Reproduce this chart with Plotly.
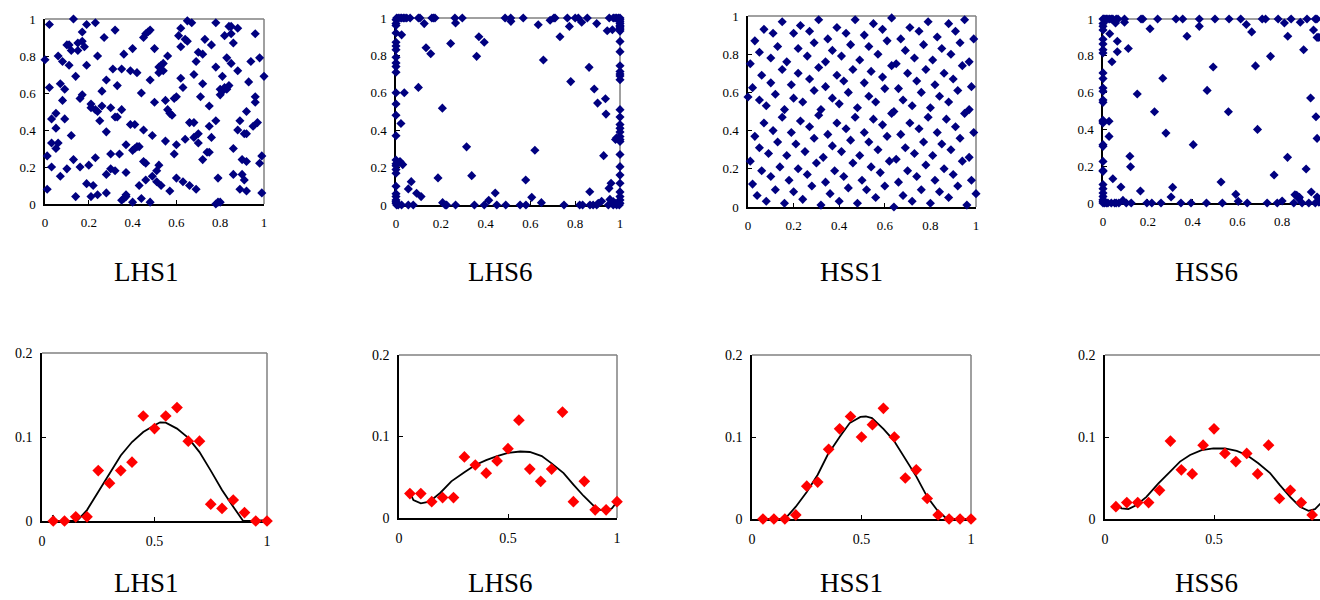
import plotly.graph_objects as go

# ---------------- data ----------------
panel_names = ["LHS1", "LHS6", "HSS1", "HSS6"]

top_ticks = [0, 0.2, 0.4, 0.6, 0.8, 1]
top_ticktext = ["0", "0.2", "0.4", "0.6", "0.8", "1"]
bot_xticks = [0, 0.5, 1]
bot_xticktext = ["0", "0.5", "1"]
bot_yticks = [0, 0.1, 0.2]
bot_yticktext = ["0", "0.1", "0.2"]

lhs1_pts = [
    (0.13,1.00),(0.02,0.97),(0.17,0.93),(0.19,0.97),(0.23,0.98),(0.32,0.94),(0.27,0.90),(0.45,0.90),
    (0.46,0.92),(0.47,0.93),(0.48,0.94),(0.50,0.84),(0.65,0.99),(0.67,0.98),(0.62,0.95),(0.61,0.91),
    (0.64,0.89),(0.65,0.88),(0.62,0.85),(0.78,0.98),(0.84,0.96),(0.85,0.96),(0.88,0.95),(0.85,0.92),
    (0.82,0.91),(0.73,0.89),(0.76,0.86),(0.86,0.87),(0.96,0.92),(0.15,0.87),(0.17,0.88),(0.10,0.86),
    (0.11,0.86),(0.12,0.83),(0.15,0.83),(0.18,0.85),(0.24,0.80),(0.36,0.81),(0.40,0.84),(0.56,0.80),
    (0.70,0.82),(0.72,0.81),(0.83,0.79),(0.85,0.76),(0.06,0.80),(0.00,0.78),(0.08,0.77),(0.11,0.75),
    (0.19,0.75),(0.69,0.77),(0.78,0.74),(0.94,0.77),(0.98,0.79),(0.31,0.73),(0.35,0.73),(0.39,0.72),
    (0.42,0.71),(0.52,0.74),(0.54,0.72),(0.52,0.71),(0.54,0.76),(0.53,0.75),(0.68,0.70),(0.88,0.72),
    (0.14,0.69),(0.28,0.67),(0.48,0.67),(0.62,0.68),(0.72,0.65),(0.81,0.69),(0.93,0.66),(1.00,0.69),
    (0.07,0.65),(0.02,0.63),(0.09,0.62),(0.33,0.64),(0.26,0.61),(0.44,0.60),(0.63,0.63),(0.80,0.62),
    (0.81,0.61),(0.82,0.63),(0.83,0.62),(0.84,0.64),(0.80,0.59),(0.08,0.56),(0.17,0.59),(0.16,0.57),
    (0.21,0.54),(0.21,0.52),(0.23,0.51),(0.24,0.50),(0.26,0.53),(0.30,0.52),(0.35,0.51),(0.32,0.47),
    (0.33,0.47),(0.50,0.55),(0.55,0.56),(0.59,0.57),(0.60,0.58),(0.56,0.51),(0.57,0.49),(0.58,0.48),
    (0.71,0.58),(0.75,0.53),(0.96,0.58),(0.96,0.55),(0.92,0.50),(0.05,0.49),(0.03,0.46),(0.09,0.46),
    (0.05,0.41),(0.25,0.45),(0.39,0.43),(0.41,0.43),(0.45,0.40),(0.49,0.37),(0.28,0.39),(0.66,0.44),
    (0.68,0.44),(0.70,0.38),(0.75,0.42),(0.78,0.45),(0.88,0.40),(0.89,0.45),(0.91,0.38),(0.92,0.38),
    (0.97,0.44),(0.95,0.42),(0.12,0.37),(0.03,0.33),(0.06,0.33),(0.05,0.30),(0.37,0.32),(0.40,0.29),
    (0.41,0.30),(0.42,0.31),(0.43,0.31),(0.55,0.34),(0.60,0.32),(0.64,0.35),(0.68,0.36),(0.70,0.33),
    (0.76,0.36),(0.74,0.28),(0.75,0.28),(0.72,0.24),(0.59,0.27),(0.86,0.30),(0.30,0.27),(0.34,0.27),
    (0.01,0.26),(0.99,0.26),(0.13,0.24),(0.23,0.25),(0.03,0.20),(0.10,0.19),(0.16,0.20),(0.20,0.21),
    (0.45,0.23),(0.46,0.22),(0.52,0.21),(0.51,0.18),(0.49,0.15),(0.30,0.19),(0.32,0.18),(0.37,0.17),
    (0.28,0.16),(0.07,0.15),(0.90,0.24),(0.92,0.23),(0.98,0.22),(0.86,0.16),(0.90,0.16),(0.91,0.13),
    (0.79,0.14),(0.60,0.14),(0.63,0.12),(0.66,0.10),(0.51,0.12),(0.53,0.10),(0.43,0.10),(0.46,0.13),
    (0.19,0.11),(0.22,0.10),(0.01,0.08),(0.57,0.07),(0.69,0.08),(0.89,0.08),(0.92,0.07),(0.28,0.06),
    (0.21,0.04),(0.24,0.05),(0.14,0.04),(0.35,0.02),(0.36,0.03),(0.37,0.04),(0.37,0.05),(0.40,0.01),
    (0.44,0.03),(0.48,0.01),(0.78,0.00),(0.79,0.01),(0.80,0.01),(0.99,0.06),
]

lhs6_top_edge_x = [0.003,0.01,0.018,0.025,0.033,0.04,0.048,0.063,0.10,0.107,0.16,0.167,0.174,0.263,0.296,
                   0.487,0.512,0.568,0.705,0.71,0.765,0.80,0.814,0.854,0.952,0.97,0.978,0.985,0.993,1.0]
lhs6_left_edge_y = [0.99,0.97,0.96,0.92,0.87,0.85,0.83,0.79,0.76,0.74,0.71,0.60,0.54,0.48,0.37,0.24,
                    0.22,0.21,0.19,0.17,0.10,0.06,0.045,0.027,0.018,0.01]
lhs6_bottom_edge_x = [0.003,0.01,0.025,0.055,0.077,0.22,0.226,0.266,0.35,0.394,0.45,0.49,0.554,0.58,
                      0.75,0.82,0.833,0.866,0.88,0.896,0.948,0.97,0.985,0.997]
lhs6_right_edge_y = [0.99,0.98,0.97,0.96,0.955,0.946,0.94,0.93,0.875,0.82,0.745,0.714,0.70,0.69,0.67,
                     0.51,0.47,0.43,0.41,0.39,0.366,0.35,0.34,0.27,0.205,0.16,0.116,0.07,0.045,0.027,0.01]
lhs6_inner = [
    (0.126,0.97),(0.266,0.973),(0.513,0.982),(0.635,0.964),(0.688,0.988),(0.774,0.955),(0.829,0.977),
    (0.896,0.97),(0.943,0.932),(0.966,0.9375),(0.732,0.90),(0.025,0.91),(0.37,0.90),(0.394,0.87),
    (0.244,0.864),(0.134,0.841),(0.155,0.809),(0.36,0.795),(0.658,0.775),(0.862,0.736),(0.78,0.66),
    (0.885,0.62),(0.935,0.568),(0.90,0.545),(0.9375,0.486),(0.10,0.629),(0.037,0.60),(0.207,0.518),
    (0.022,0.436),(0.315,0.311),(0.62,0.293),(0.927,0.264),(0.03,0.216),(0.018,0.232),(0.338,0.157),
    (0.1875,0.145),(0.579,0.134),(0.068,0.125),(0.055,0.086),(0.092,0.0625),(0.112,0.045),(0.443,0.064),
    (0.414,0.025),(0.606,0.041),(0.649,0.0125),(0.865,0.071),(0.96,0.116),(0.951,0.089),(0.955,0.03),
    (0.918,0.02),(0.903,0.009),(0.97,0.018),(0.978,0.009),(0.208,0.0125),(0.98,0.35),(0.985,0.36),
]

hss1_pts = [
    (0.00,0.576),(0.01,0.75),(0.02,0.625),(0.03,0.87),(0.05,0.81),(0.07,0.93),(0.05,0.56),(0.06,0.69),
    (0.03,0.37),(0.07,0.44),(0.08,0.53),(0.10,0.78),(0.11,0.91),(0.13,0.84),(0.10,0.65),(0.12,0.59),
    (0.11,0.40),(0.05,0.31),(0.09,0.28),(0.01,0.24),(0.06,0.19),(0.02,0.12),(0.04,0.06),(0.08,0.03),
    (0.10,0.16),(0.12,0.09),(0.16,0.02),(0.14,0.21),(0.13,0.34),(0.15,0.72),(0.16,0.51),(0.15,0.47),
    (0.15,0.97),(0.17,0.76),(0.17,0.27),(0.18,0.14),(0.19,0.39),(0.19,0.64),(0.20,0.91),(0.20,0.08),
    (0.20,0.57),(0.22,0.83),(0.21,0.33),(0.22,0.20),(0.22,0.70),(0.23,0.45),(0.23,0.95),(0.24,0.04),
    (0.24,0.55),(0.25,0.29),(0.26,0.79),(0.26,0.17),(0.27,0.67),(0.27,0.42),(0.27,0.92),(0.28,0.11),
    (0.29,0.61),(0.29,0.36),(0.29,0.86),(0.30,0.23),(0.31,0.73),(0.31,0.48),(0.31,0.98),(0.32,0.01),
    (0.32,0.51),(0.33,0.26),(0.34,0.76),(0.34,0.13),(0.34,0.63),(0.35,0.38),(0.35,0.88),(0.36,0.07),
    (0.37,0.57),(0.37,0.32),(0.37,0.82),(0.38,0.19),(0.39,0.69),(0.39,0.44),(0.39,0.94),(0.40,0.03),
    (0.40,0.54),(0.41,0.29),(0.41,0.79),(0.42,0.16),(0.42,0.66),(0.43,0.41),(0.43,0.91),(0.44,0.10),
    (0.44,0.60),(0.45,0.35),(0.45,0.85),(0.46,0.23),(0.46,0.72),(0.47,0.47),(0.47,0.98),(0.48,0.02),
    (0.48,0.52),(0.49,0.27),(0.49,0.77),(0.50,0.14),(0.51,0.65),(0.51,0.39),(0.51,0.90),(0.52,0.09),
    (0.53,0.58),(0.53,0.34),(0.53,0.84),(0.54,0.21),(0.54,0.71),(0.55,0.46),(0.55,0.96),(0.56,0.05),
    (0.56,0.55),(0.57,0.30),(0.57,0.80),(0.58,0.18),(0.59,0.68),(0.59,0.43),(0.59,0.93),(0.60,0.11),
    (0.60,0.62),(0.61,0.37),(0.61,0.87),(0.62,0.24),(0.63,0.74),(0.63,0.49),(0.63,0.99),(0.64,0.00),
    (0.64,0.50),(0.65,0.25),(0.65,0.75),(0.66,0.13),(0.66,0.62),(0.67,0.38),(0.67,0.88),(0.68,0.06),
    (0.68,0.56),(0.69,0.31),(0.69,0.82),(0.70,0.19),(0.70,0.70),(0.71,0.44),(0.71,0.94),(0.72,0.03),
    (0.72,0.53),(0.73,0.28),(0.73,0.78),(0.74,0.16),(0.74,0.66),(0.75,0.41),(0.75,0.92),(0.76,0.09),
    (0.76,0.60),(0.77,0.34),(0.77,0.85),(0.78,0.22),(0.78,0.72),(0.79,0.47),(0.79,0.97),(0.80,0.02),
    (0.80,0.52),(0.81,0.27),(0.81,0.77),(0.82,0.14),(0.82,0.64),(0.83,0.39),(0.83,0.89),(0.84,0.08),
    (0.84,0.58),(0.85,0.33),(0.85,0.83),(0.86,0.20),(0.86,0.70),(0.87,0.46),(0.88,0.96),(0.88,0.05),
    (0.88,0.55),(0.89,0.30),(0.89,0.80),(0.90,0.17),(0.90,0.67),(0.91,0.42),(0.91,0.92),(0.92,0.11),
    (0.92,0.61),(0.93,0.36),(0.93,0.86),(0.94,0.24),(0.94,0.74),(0.95,0.49),(0.95,0.98),(0.96,0.01),
    (0.97,0.51),(0.97,0.26),(0.97,0.76),(0.98,0.14),(0.98,0.63),(0.99,0.39),(0.99,0.88),(1.00,0.07),
]

hss6_top_edge_x = [0.0,0.004,0.009,0.015,0.022,0.03,0.037,0.044,0.059,0.067,0.096,0.17,0.178,0.244,0.326,
                   0.356,0.43,0.5,0.563,0.615,0.711,0.726,0.782,0.84,0.911,0.948,0.955]
hss6_left_edge_y = [0.975,0.96,0.94,0.89,0.864,0.833,0.815,0.707,0.676,0.625,0.607,0.56,0.547,0.45,0.444,
                    0.435,0.317,0.308,0.226,0.176,0.172,0.10,0.078,0.054,0.036,0.018,0.009]
hss6_bottom_edge_x = [0.0,0.007,0.015,0.022,0.037,0.052,0.059,0.071,0.104,0.126,0.196,0.218,0.259,0.348,
                      0.393,0.462,0.533,0.644,0.733,0.778,0.852,0.889,0.919,0.948]
hss6_inner = [
    (0.056,0.978),(0.096,0.982),(0.03,0.92),(0.43,0.96),(0.64,0.97),(0.664,0.93),(0.81,0.978),(0.881,0.982),
    (0.94,0.94),(0.956,0.90),(0.21,0.947),(0.375,0.906),(0.825,0.906),(0.064,0.879),(0.113,0.84),
    (0.064,0.822),(0.04,0.768),(0.896,0.833),(0.748,0.797),(0.681,0.745),(0.492,0.739),(0.267,0.678),
    (0.465,0.612),(0.153,0.592),(0.927,0.571),(0.23,0.496),(0.56,0.496),(0.951,0.469),(0.69,0.40),
    (0.281,0.38),(0.956,0.351),(0.403,0.317),(0.12,0.254),(0.824,0.248),(0.123,0.197),(0.907,0.185),
    (0.764,0.152),(0.044,0.132),(0.527,0.114),(0.08,0.087),(0.311,0.085),(0.167,0.065),(0.93,0.06),
    (0.304,0.033),(0.593,0.047),(0.865,0.042),(0.874,0.024),(0.877,0.031),(0.604,0.009),(0.80,0.011),
    (0.089,0.014),(0.956,0.033),(0.027,0.444),(0.027,0.362),(0.964,0.90),(0.964,0.005),(0.857,0.045),
]

# bottom row: frequency (red diamonds) and fitted curve (black line)
bin_x = [0.05,0.10,0.15,0.20,0.25,0.30,0.35,0.40,0.45,0.50,0.55,0.60,0.65,0.70,0.75,0.80,0.85,0.90,0.95,1.00]
lhs1_freq = [0,0,0.005,0.005,0.06,0.045,0.06,0.07,0.125,0.11,0.125,0.135,0.095,0.095,0.02,0.015,0.025,0.01,0,0]
lhs6_freq = [0.03,0.03,0.02,0.025,0.025,0.075,0.065,0.055,0.07,0.085,0.12,0.06,0.045,0.06,0.13,0.02,0.045,0.01,0.01,0.02]
hss1_freq = [0,0,0,0.005,0.04,0.045,0.085,0.11,0.125,0.10,0.115,0.135,0.10,0.05,0.06,0.025,0.005,0,0,0]
hss6_freq = [0.015,0.02,0.02,0.02,0.035,0.095,0.06,0.055,0.09,0.11,0.08,0.07,0.08,0.055,0.09,0.025,0.035,0.02,0.005,0.02]

lhs1_fit_x = [0.047,0.06,0.07,0.10,0.155,0.20,0.25,0.30,0.35,0.40,0.45,0.50,0.525,0.55,0.60,0.65,0.70,0.75,0.80,0.85,0.894,0.945,0.99,1.0]
lhs1_fit_y = [0.007,0.001,0,0,0,0.013,0.035,0.057,0.078,0.094,0.106,0.114,0.1175,0.117,0.110,0.099,0.082,0.060,0.037,0.017,0.0,0.0,0.001,0.005]
lhs6_fit_x = [0.046,0.066,0.10,0.14,0.19,0.24,0.30,0.35,0.40,0.45,0.50,0.556,0.60,0.655,0.70,0.755,0.80,0.847,0.893,0.923,0.954,0.977,1.0]
lhs6_fit_y = [0.034,0.022,0.018,0.020,0.031,0.045,0.056,0.065,0.071,0.076,0.080,0.0816,0.081,0.076,0.067,0.055,0.041,0.027,0.015,0.010,0.009,0.012,0.020]
hss1_fit_x = [0.05,0.10,0.15,0.20,0.25,0.30,0.345,0.40,0.446,0.495,0.52,0.548,0.60,0.647,0.70,0.75,0.80,0.845,0.89,0.95,1.0]
hss1_fit_y = [0,0,0,0.015,0.033,0.054,0.078,0.100,0.117,0.1245,0.125,0.123,0.110,0.096,0.074,0.052,0.027,0.011,0,0,0]
hss6_fit_x = [0.046,0.076,0.107,0.145,0.19,0.245,0.30,0.344,0.39,0.443,0.497,0.55,0.604,0.65,0.703,0.757,0.803,0.849,0.894,0.933,0.963,0.986,1.0]
hss6_fit_y = [0.019,0.013,0.012,0.017,0.027,0.0435,0.058,0.070,0.078,0.084,0.086,0.086,0.083,0.078,0.068,0.056,0.041,0.027,0.015,0.010,0.012,0.019,0.022]

# ---------------- assemble point sets ----------------
def split(pts):
    return [p[0] for p in pts], [p[1] for p in pts]

lhs1_x, lhs1_y = split(lhs1_pts)
hss1_x, hss1_y = split(hss1_pts)
lhs6_x = (lhs6_top_edge_x + [0.0] * len(lhs6_left_edge_y) + lhs6_bottom_edge_x
          + [1.0] * len(lhs6_right_edge_y) + [p[0] for p in lhs6_inner])
lhs6_y = ([1.0] * len(lhs6_top_edge_x) + lhs6_left_edge_y + [0.0] * len(lhs6_bottom_edge_x)
          + lhs6_right_edge_y + [p[1] for p in lhs6_inner])
hss6_x = (hss6_top_edge_x + [0.0] * len(hss6_left_edge_y) + hss6_bottom_edge_x + [p[0] for p in hss6_inner])
hss6_y = ([1.0] * len(hss6_top_edge_x) + hss6_left_edge_y + [0.0] * len(hss6_bottom_edge_x) + [p[1] for p in hss6_inner])

top_sets = [(lhs1_x, lhs1_y), (lhs6_x, lhs6_y), (hss1_x, hss1_y), (hss6_x, hss6_y)]
bot_sets = [(lhs1_freq, lhs1_fit_x, lhs1_fit_y), (lhs6_freq, lhs6_fit_x, lhs6_fit_y),
            (hss1_freq, hss1_fit_x, hss1_fit_y), (hss6_freq, hss6_fit_x, hss6_fit_y)]

# ---------------- layout geometry (pixels) ----------------
W, H = 1320, 600
top_px = [(45, 264, 19, 204, 1.0), (396, 620, 18, 205, 1.0), (748, 976, 16, 207, 1.0), (1103, 1320, 19, 203, 0.969)]
bot_px = [(42, 267, 353, 521, 1.0), (399, 617, 355, 518, 1.0), (752, 971, 355, 519, 1.0), (1105, 1320, 355, 519, 0.986)]
title_cx = [146, 500, 851, 1206]

fig = go.Figure()
layout = {}
shapes = []
annotations = []
SERIF = "Liberation Serif"
BORDER = "#808080"

def ref(letter, idx):
    return letter if idx == 1 else f"{letter}{idx}"

def add_axes(idx, geom, yr, xt, xtt, yt, ytt, fs, last):
    x0, x1, y0, y1, xmax = geom
    xa = "xaxis" if idx == 1 else f"xaxis{idx}"
    ya = "yaxis" if idx == 1 else f"yaxis{idx}"
    common = dict(showline=True, linecolor="black", linewidth=1.5, ticks="inside", ticklen=4,
                  tickcolor="black", tickwidth=1, showgrid=False, zeroline=False, layer="below traces",
                  tickfont=dict(family=SERIF, size=fs, color="black"), fixedrange=True)
    layout[xa] = dict(domain=[x0 / W, x1 / W], range=[0, xmax], anchor=ref("y", idx),
                      tickvals=xt, ticktext=xtt, ticklabelstandoff=6, **common)
    layout[ya] = dict(domain=[1 - y1 / H, 1 - y0 / H], range=[0, yr], anchor=ref("x", idx),
                      tickvals=yt, ticktext=ytt, ticklabelstandoff=5, **common)
    xd = ref("x", idx) + " domain"
    yd = ref("y", idx) + " domain"
    shapes.append(dict(type="line", xref=xd, yref=yd, x0=0, x1=1, y0=1, y1=1,
                       line=dict(color=BORDER, width=1.5), layer="below"))
    if not last:
        shapes.append(dict(type="line", xref=xd, yref=yd, x0=1, x1=1, y0=0, y1=1,
                           line=dict(color=BORDER, width=1.5), layer="below"))

for i in range(4):
    idx = i + 1
    xs, ys = top_sets[i]
    fig.add_trace(go.Scatter(x=xs, y=ys, mode="markers", xaxis=ref("x", idx), yaxis=ref("y", idx),
                             marker=dict(symbol="diamond", size=7, color="#000080"),
                             cliponaxis=False, showlegend=False, hoverinfo="skip"))
    add_axes(idx, top_px[i], 1.0, top_ticks, top_ticktext, top_ticks, top_ticktext, 13, i == 3)
    annotations.append(dict(text=panel_names[i], x=title_cx[i] / W, y=1 - 272 / H, xref="paper", yref="paper",
                            showarrow=False, xanchor="center", yanchor="middle",
                            font=dict(family=SERIF, size=27, color="black")))

for i in range(4):
    idx = i + 5
    freq, fx, fy = bot_sets[i]
    fig.add_trace(go.Scatter(x=fx, y=fy, mode="lines", xaxis=ref("x", idx), yaxis=ref("y", idx),
                             line=dict(color="black", width=1.8), showlegend=False, hoverinfo="skip"))
    fig.add_trace(go.Scatter(x=bin_x, y=freq, mode="markers", xaxis=ref("x", idx), yaxis=ref("y", idx),
                             marker=dict(symbol="diamond", size=9, color="#FF0000"),
                             cliponaxis=False, showlegend=False, hoverinfo="skip"))
    add_axes(idx, bot_px[i], 0.2, bot_xticks, bot_xticktext, bot_yticks, bot_yticktext, 14, i == 3)
    annotations.append(dict(text=panel_names[i], x=title_cx[i] / W, y=1 - 583 / H, xref="paper", yref="paper",
                            showarrow=False, xanchor="center", yanchor="middle",
                            font=dict(family=SERIF, size=27, color="black")))

fig.update_layout(width=W, height=H, margin=dict(l=0, r=0, t=0, b=0, pad=0, autoexpand=False), autosize=False,
                  paper_bgcolor="white", plot_bgcolor="rgba(0,0,0,0)",
                  shapes=shapes, annotations=annotations, showlegend=False, **layout)

fig.write_html("out.html", config={"displayModeBar": False},
               post_script="document.body.style.margin='0';document.body.style.overflow='hidden';")
